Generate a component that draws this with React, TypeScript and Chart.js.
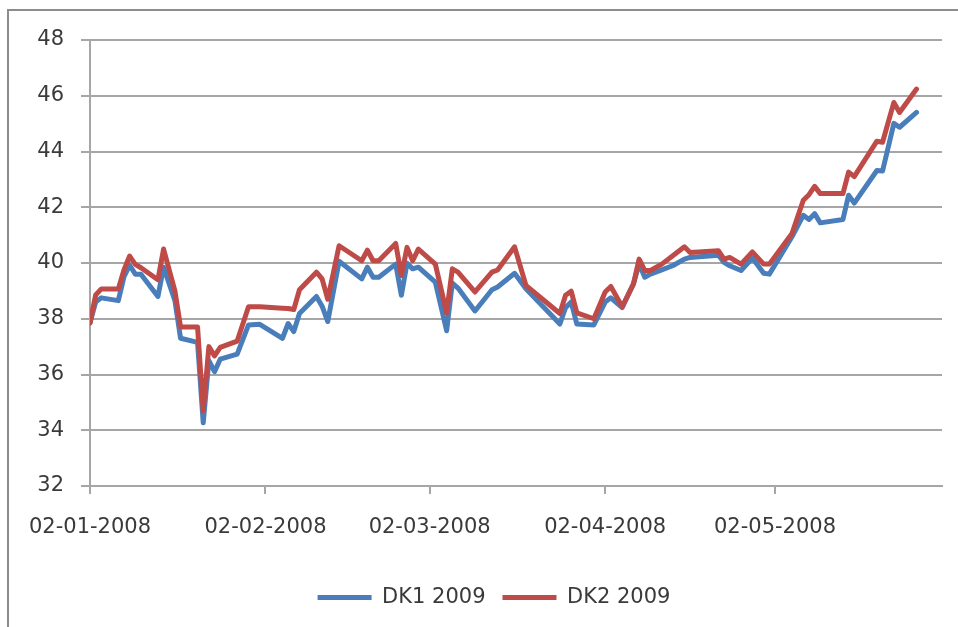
import React, { useEffect, useRef } from 'react';
import { Chart, registerables } from 'chart.js';

Chart.register(...registerables);

// Trading dates
const dates = [
  '2008-01-02', '2008-01-03', '2008-01-04', '2008-01-07', '2008-01-08', '2008-01-09', '2008-01-10', '2008-01-11',
  '2008-01-14', '2008-01-15', '2008-01-17', '2008-01-18', '2008-01-21', '2008-01-22', '2008-01-23', '2008-01-24',
  '2008-01-25', '2008-01-28', '2008-01-30', '2008-02-01', '2008-02-05', '2008-02-06', '2008-02-07', '2008-02-08',
  '2008-02-11', '2008-02-12', '2008-02-13', '2008-02-15', '2008-02-19', '2008-02-20', '2008-02-21', '2008-02-22',
  '2008-02-25', '2008-02-26', '2008-02-27', '2008-02-28', '2008-02-29', '2008-03-03', '2008-03-05', '2008-03-06',
  '2008-03-07', '2008-03-10', '2008-03-13', '2008-03-14', '2008-03-17', '2008-03-19', '2008-03-25', '2008-03-26',
  '2008-03-27', '2008-03-28', '2008-03-31', '2008-04-02', '2008-04-03', '2008-04-05', '2008-04-07', '2008-04-08',
  '2008-04-09', '2008-04-10', '2008-04-12', '2008-04-14', '2008-04-16', '2008-04-17', '2008-04-22', '2008-04-23',
  '2008-04-24', '2008-04-26', '2008-04-28', '2008-04-30', '2008-05-01', '2008-05-05', '2008-05-07', '2008-05-08',
  '2008-05-09', '2008-05-10', '2008-05-14', '2008-05-15', '2008-05-16', '2008-05-20', '2008-05-21', '2008-05-23',
  '2008-05-24', '2008-05-27',
];

const dk1 = [
  37.85, 38.6, 38.75, 38.65, 39.5, 39.92, 39.6, 39.6,
  38.8, 39.85, 38.65, 37.3, 37.15, 34.27, 36.5, 36.1,
  36.55, 36.73, 37.78, 37.8, 37.3, 37.83, 37.54, 38.19,
  38.8, 38.45, 37.9, 40.06, 39.43, 39.85, 39.49, 39.49,
  39.96, 38.84, 39.99, 39.79, 39.85, 39.31, 37.57, 39.28,
  39.1, 38.28, 39.04, 39.14, 39.63, 39.08, 37.81, 38.4,
  38.6, 37.81, 37.78, 38.6, 38.75, 38.4, 39.25, 39.96,
  39.49, 39.6, 39.75, 39.91, 40.14, 40.2, 40.28, 40.02,
  39.9, 39.73, 40.18, 39.63, 39.6, 40.94, 41.71, 41.56,
  41.77, 41.44, 41.56, 42.43, 42.15, 43.32, 43.3, 45.01,
  44.87, 45.4,
];

const dk2 = [
  37.85, 38.85, 39.07, 39.07, 39.75, 40.25, 39.95, 39.83,
  39.4, 40.5, 39.0, 37.7, 37.7, 34.7, 37.0, 36.67,
  36.97, 37.2, 38.43, 38.43, 38.38, 38.37, 38.33, 39.04,
  39.67, 39.43, 38.7, 40.62, 40.08, 40.46, 40.08, 40.08,
  40.7, 39.55, 40.56, 40.08, 40.5, 39.96, 38.21, 39.79,
  39.67, 38.96, 39.67, 39.75, 40.58, 39.2, 38.19, 38.84,
  38.99, 38.21, 38.0, 38.96, 39.16, 38.43, 39.25, 40.14,
  39.73, 39.73, 39.96, 40.27, 40.58, 40.38, 40.44, 40.14,
  40.2, 39.96, 40.4, 39.96, 39.96, 41.06, 42.25, 42.45,
  42.75, 42.49, 42.49, 43.26, 43.1, 44.37, 44.33, 45.76,
  45.4, 46.24,
];

const seriesNames = ['DK1 2009', 'DK2 2009'];
const tickDates = ['2008-01-02', '2008-02-02', '2008-03-02', '2008-04-02', '2008-05-02'];
const AXIS_START = '2008-01-02';
const AXIS_END_DAYS = 150.5;
const Y_MIN = 32;
const Y_MAX = 48;
const Y_STEP = 2;

const DAY = 86400000;
function toUTC(s: string) {
  const [y, m, d] = s.split('-').map(Number);
  return Date.UTC(y, m - 1, d);
}
function dayOf(s: string) {
  return Math.round((toUTC(s) - toUTC(AXIS_START)) / DAY);
}
function fmtDay(v: number) {
  const dt = new Date(toUTC(AXIS_START) + Math.round(v) * DAY);
  const dd = String(dt.getUTCDate()).padStart(2, '0');
  const mm = String(dt.getUTCMonth() + 1).padStart(2, '0');
  return `${dd}-${mm}-${dt.getUTCFullYear()}`;
}

const FONT = { family: '"DejaVu Sans", sans-serif', size: 21 };
const TEXT = '#3a3a3a';
const GRID = '#a6a6a6';
const BLUE = '#4a7ebb';
const RED = '#be4b48';

// nudges the centred legend row a little to the right, as in the reference
const legendShift = {
  id: 'legendShift',
  afterLayout(chart: any) {
    if (chart.legend) {
      chart.legend.left += 5;
      chart.legend.right += 5;
    }
  },
};

export default function App() {
  const ref = useRef<HTMLCanvasElement>(null);

  useEffect(() => {
    document.body.style.margin = '0';
    document.body.style.overflow = 'hidden';
    const canvas = ref.current!;
    const chart = new Chart(canvas, {
      type: 'line',
      data: {
        datasets: [
          {
            label: seriesNames[0],
            data: dates.map((d, i) => ({ x: dayOf(d), y: dk1[i] })),
            borderColor: BLUE,
            backgroundColor: BLUE,
            borderWidth: 5,
            pointRadius: 0,
            borderJoinStyle: 'round',
            borderCapStyle: 'round',
            tension: 0,
            order: 1,
          },
          {
            label: seriesNames[1],
            data: dates.map((d, i) => ({ x: dayOf(d), y: dk2[i] })),
            borderColor: RED,
            backgroundColor: RED,
            borderWidth: 5,
            pointRadius: 0,
            borderJoinStyle: 'round',
            borderCapStyle: 'round',
            tension: 0,
            order: 0,
          },
        ],
      },
      plugins: [legendShift],
      options: {
        animation: false,
        responsive: false,
        events: [],
        layout: { padding: { left: 36, right: 16, top: 40, bottom: 9 } },
        plugins: {
          legend: {
            position: 'bottom',
            labels: {
              usePointStyle: true,
              pointStyle: 'line',
              pointStyleWidth: 54,
              font: FONT,
              color: TEXT,
              padding: 17,
              sort: (a: any, b: any) => a.datasetIndex - b.datasetIndex,
            },
          },
          tooltip: { enabled: false },
        },
        scales: {
          x: {
            type: 'linear',
            min: 0,
            max: AXIS_END_DAYS,
            afterBuildTicks: (scale: any) => {
              scale.ticks = tickDates.map((d) => ({ value: dayOf(d) }));
            },
            afterFit: (scale: any) => {
              scale.height = 84;
            },
            grid: { drawOnChartArea: false, drawTicks: true, tickLength: 8, color: GRID, lineWidth: 2 },
            border: { display: true, color: GRID, width: 2 },
            ticks: {
              padding: 21,
              font: FONT,
              color: TEXT,
              maxRotation: 0,
              autoSkip: false,
              callback: (v: any) => fmtDay(Number(v)),
            },
          },
          y: {
            min: Y_MIN,
            max: Y_MAX,
            afterFit: (scale: any) => {
              scale.width = 54;
            },
            grid: { color: GRID, lineWidth: 2, tickLength: 9 },
            border: { display: true, color: GRID, width: 2 },
            ticks: { stepSize: Y_STEP, padding: 17, font: FONT, color: TEXT },
          },
        },
      },
    });
    return () => chart.destroy();
  }, []);

  return (
    <div style={{ position: 'relative', width: 958, height: 627, overflow: 'hidden', background: '#fff' }}>
      <div
        style={{
          position: 'absolute',
          left: 7,
          top: 9,
          width: 1200,
          height: 900,
          borderLeft: '2px solid #8c8c8c',
          borderTop: '2px solid #8c8c8c',
        }}
      />
      <canvas ref={ref} width={958} height={627} style={{ position: 'absolute', left: 0, top: 0 }} />
    </div>
  );
}
